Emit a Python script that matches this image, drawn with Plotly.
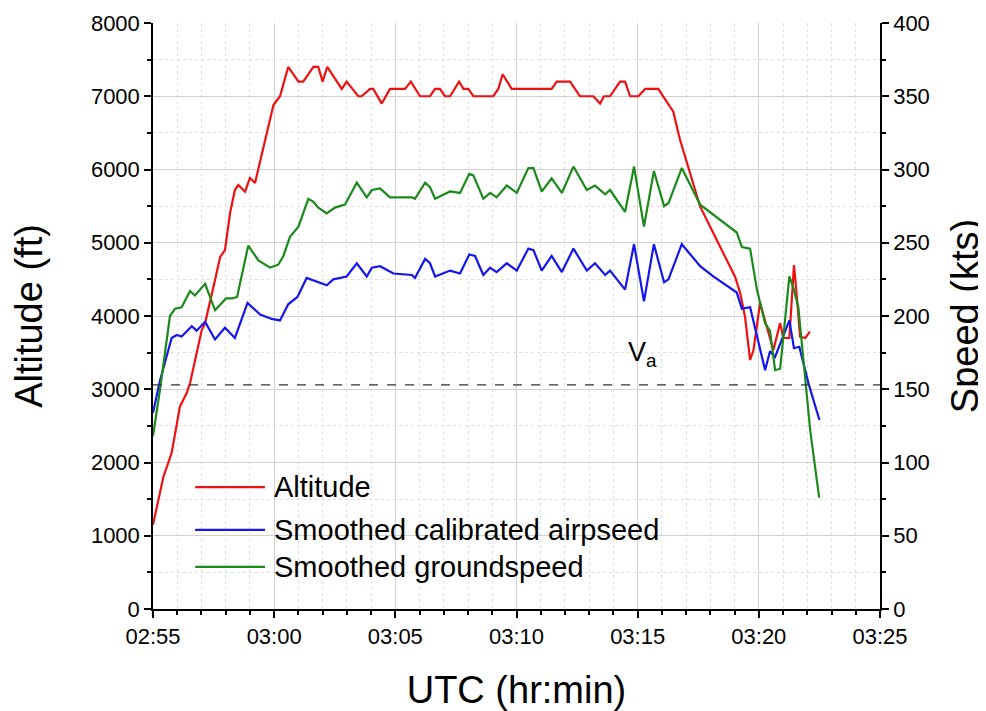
import pandas as pd
import plotly.graph_objects as go

# ---- data (minutes after 02:55 UTC) ----
alt_min = [0, 0.43, 0.77, 1.11, 1.39, 1.53, 2.01, 2.15, 2.56, 2.77, 2.97, 3.18, 3.38, 3.52, 3.80, 4.00, 4.21, 4.49,
           4.76, 4.97, 5.24, 5.58, 6.00, 6.20, 6.62, 6.82, 7.00, 7.19, 7.79, 7.99, 8.47, 8.61, 8.96, 9.09, 9.44, 9.78,
           10.19, 10.40, 10.64, 11.02, 11.43, 11.64, 11.84, 12.05, 12.26, 12.63, 12.81, 13.01, 13.22, 14.04, 14.25,
           14.43, 14.80, 16.45, 16.66, 17.21, 17.62, 18.17, 18.45, 18.61, 18.86, 19.27, 19.48, 19.69, 20.03, 20.31,
           20.85, 21.20, 21.47, 21.75, 22.16, 22.58, 23.12, 24.02, 24.23, 24.43, 24.64, 24.78, 25.05, 25.26, 25.60,
           25.88, 26.01, 26.26, 26.45, 26.57, 26.70, 26.91, 27.11]
altitude_ft = [1150, 1806, 2130, 2762, 2949, 3085, 3809, 3904, 4491, 4805, 4901, 5406, 5720, 5788, 5697, 5884, 5816,
               6225, 6580, 6881, 7000, 7400, 7200, 7200, 7400, 7400, 7200, 7400, 7100, 7200, 7000, 7000, 7100, 7100,
               6900, 7100, 7100, 7100, 7200, 7000, 7000, 7100, 7100, 7000, 7000, 7200, 7100, 7100, 7000, 7000, 7100,
               7300, 7100, 7100, 7200, 7200, 7000, 7000, 6900, 7000, 7000, 7200, 7200, 7000, 7000, 7100, 7100, 6925,
               6789, 6403, 5952, 5492, 5133, 4536, 4314, 3990, 3399, 3536, 4177, 3945, 3536, 3904, 3700, 3700, 4696,
               4263, 3717, 3700, 3786]

cas_min = [0, 0.29, 0.77, 0.98, 1.18, 1.60, 1.80, 2.15, 2.56, 2.97, 3.38, 3.90, 4.42, 4.90, 5.24, 5.58, 5.96, 6.34,
           7.17, 7.44, 7.99, 8.41, 8.82, 9.03, 9.37, 9.92, 10.68, 10.81, 11.23, 11.43, 11.64, 12.26, 12.67, 13.05,
           13.29, 13.63, 13.91, 14.18, 14.60, 15.01, 15.49, 15.70, 16.04, 16.45, 16.87, 17.35, 17.90, 18.24, 18.66,
           18.86, 19.48, 19.85, 20.26, 20.67, 21.09, 21.27, 21.82, 22.58, 23.12, 24.09, 24.30, 24.64, 25.26, 25.46,
           25.67, 26.26, 26.45, 26.67, 27.05, 27.50]
cas_kts = [134, 156, 185, 187, 186, 193, 190, 196, 184, 192, 185, 209, 201, 198, 197, 208, 213, 226, 221, 225, 227,
           236, 227, 233, 234, 229, 228, 226, 239, 236, 227, 231, 229, 242, 241, 228, 233, 230, 236, 231, 246, 245,
           231, 241, 230, 246, 231, 236, 228, 231, 218, 249, 210, 249, 223, 225, 249, 234, 227, 216, 205, 206, 163,
           176, 172, 197, 178, 179, 154, 129]

gs_min = [0, 0.29, 0.70, 0.91, 1.18, 1.53, 1.73, 2.15, 2.56, 3.01, 3.28, 3.47, 3.93, 4.35, 4.83, 5.17, 5.38, 5.65,
          6.00, 6.41, 6.62, 6.82, 7.17, 7.51, 7.92, 8.41, 8.82, 9.03, 9.37, 9.78, 10.68, 10.81, 11.23, 11.43, 11.64,
          12.26, 12.67, 13.05, 13.22, 13.63, 13.91, 14.18, 14.60, 15.01, 15.49, 15.70, 16.04, 16.45, 16.87, 17.35,
          17.90, 18.24, 18.66, 18.86, 19.48, 19.85, 20.26, 20.67, 21.09, 21.27, 21.82, 22.58, 24.09, 24.30, 24.64,
          24.92, 25.26, 25.46, 25.67, 25.88, 26.26, 26.43, 26.63, 26.98, 27.12, 27.49]
gs_kts = [118, 150, 200, 205, 206, 217, 214, 222, 204, 212, 212, 213, 248, 238, 233, 235, 241, 254, 261, 280, 278,
          274, 270, 274, 276, 291, 281, 286, 287, 281, 281, 280, 291, 288, 280, 285, 284, 297, 296, 280, 284, 281,
          289, 284, 301, 301, 285, 294, 284, 302, 286, 289, 283, 286, 271, 302, 261, 299, 275, 277, 301, 276, 257,
          247, 246, 218, 195, 190, 163, 164, 227, 219, 206, 145, 122, 76]

va_kts = 153
va_label_min = 20.18
va_label_kts = 174

series_names = ["Altitude", "Smoothed calibrated airpseed", "Smoothed groundspeed"]
series_colors = ["#ee1111", "#1515ee", "#1a8a1a"]

start = pd.Timestamp("2000-01-01 02:55:00")
end = pd.Timestamp("2000-01-01 03:25:00")


def to_time(mins):
    return [start + pd.Timedelta(minutes=m) for m in mins]


FONT = "Arial, Liberation Sans, sans-serif"
fig = go.Figure()
fig.add_trace(go.Scatter(x=to_time(alt_min), y=altitude_ft, mode="lines", name=series_names[0],
                         line=dict(color=series_colors[0], width=2.2)))
fig.add_trace(go.Scatter(x=to_time(cas_min), y=cas_kts, mode="lines", name=series_names[1], yaxis="y2",
                         line=dict(color=series_colors[1], width=2.2)))
fig.add_trace(go.Scatter(x=to_time(gs_min), y=gs_kts, mode="lines", name=series_names[2], yaxis="y2",
                         line=dict(color=series_colors[2], width=2.2)))

# V_a reference line
fig.add_shape(type="line", xref="paper", x0=0, x1=1, yref="y2", y0=va_kts, y1=va_kts,
              line=dict(color="#333333", width=1.2, dash="dash"))
fig.add_annotation(x=start + pd.Timedelta(minutes=va_label_min), y=va_label_kts, yref="y2",
                   text="V<sub>a</sub>", showarrow=False, font=dict(size=27, family=FONT, color="black"))

# custom legend (long line samples)
leg_y = [0.208, 0.135, 0.072]
for name, color, yy in zip(series_names, series_colors, leg_y):
    fig.add_shape(type="line", xref="paper", yref="paper", x0=0.058, x1=0.154, y0=yy, y1=yy,
                  line=dict(color=color, width=2.2))
    fig.add_annotation(xref="paper", yref="paper", x=0.163, y=yy, xanchor="left", yanchor="middle",
                       text=name, showarrow=False, font=dict(size=29, family=FONT, color="black"))

axis_common = dict(showline=True, linecolor="black", linewidth=1.5, ticks="outside", tickcolor="black",
                   tickwidth=1.5, ticklen=7, zeroline=False, automargin=False,
                   tickfont=dict(size=22, family=FONT, color="black"))

fig.update_layout(
    width=978, height=703,
    margin=dict(l=145, r=106, t=15, b=102),
    plot_bgcolor="white", paper_bgcolor="white",
    showlegend=False,
    font=dict(family=FONT, color="black"),
    xaxis=dict(type="date", range=[start, end], dtick=300000, tickformat="%H:%M",
               showgrid=True, gridcolor="#d2d2d2", gridwidth=1,
               minor=dict(dtick=60000, ticks="outside", ticklen=4, tickcolor="black", showgrid=True,
                          gridcolor="#e0e0e0", griddash="dot"),
               title=dict(text="UTC (hr:min)", font=dict(size=38, family=FONT), standoff=32),
               **axis_common),
    yaxis=dict(range=[0, 8000], dtick=1000, showgrid=True, gridcolor="#d2d2d2", gridwidth=1,
               minor=dict(dtick=500, ticks="outside", ticklen=4, tickcolor="black", showgrid=True,
                          gridcolor="#e0e0e0", griddash="dot"),
               title=dict(text="Altitude (ft)", font=dict(size=38, family=FONT), standoff=44),
               **axis_common),
    yaxis2=dict(range=[0, 400], dtick=50, overlaying="y", side="right", showgrid=False,
                minor=dict(dtick=25, ticks="outside", ticklen=4, tickcolor="black"),
                title=dict(text="Speed (kts)", font=dict(size=38, family=FONT), standoff=24),
                **axis_common),
)

fig.write_html("out.html")
